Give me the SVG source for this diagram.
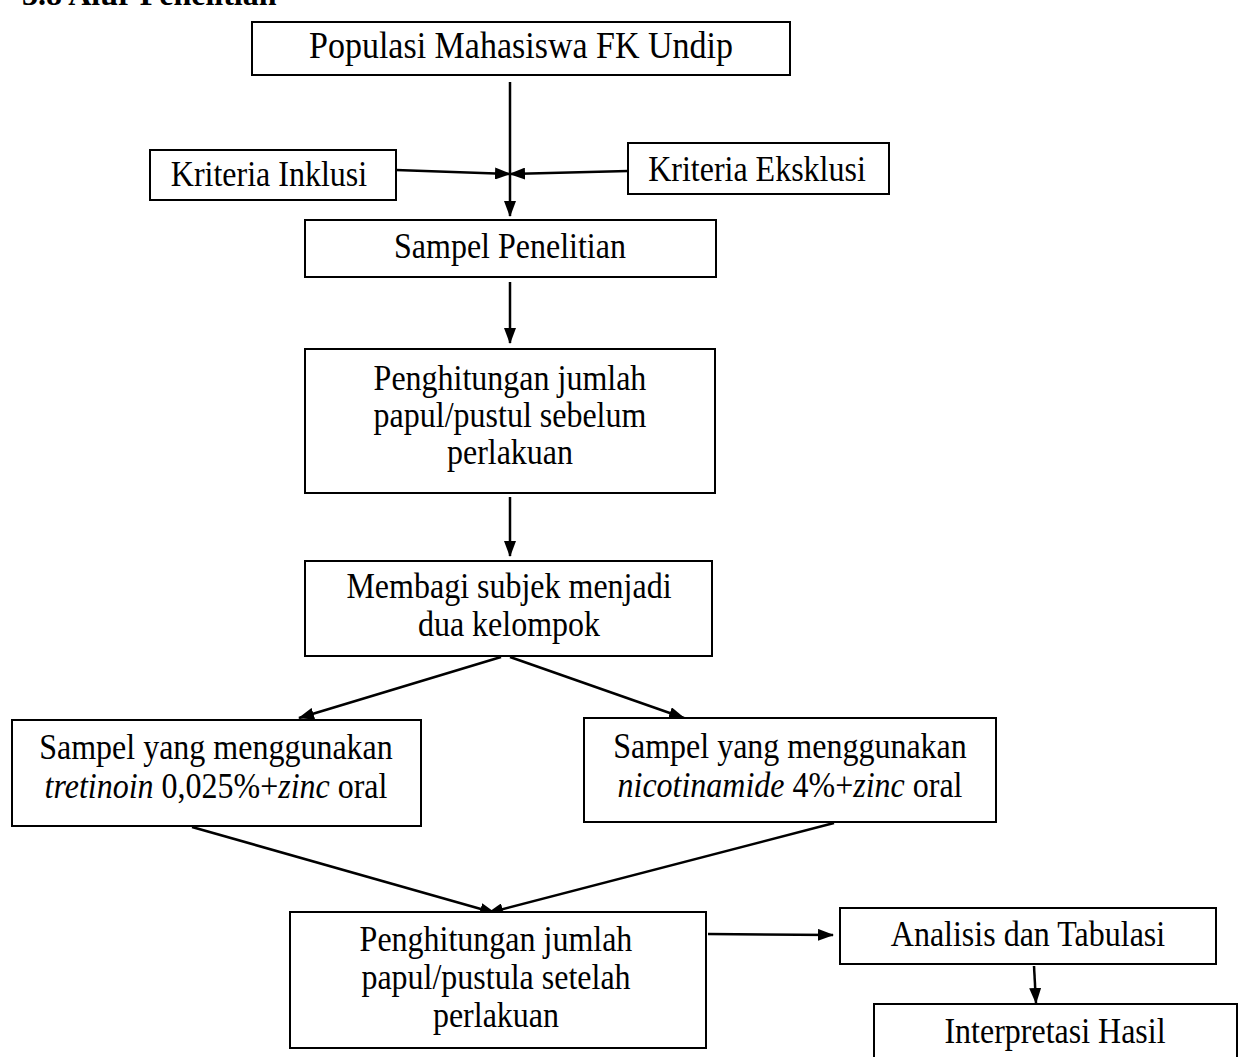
<svg xmlns="http://www.w3.org/2000/svg" width="1250" height="1057" viewBox="0 0 1250 1057">
<style>
.box{fill:#fff;stroke:#000;stroke-width:2}
.t{font-family:"Liberation Serif","Times New Roman",serif;font-size:32px;fill:#000;text-anchor:middle;transform-box:fill-box;transform-origin:center;transform:scaleY(1.1)}
.i{font-style:italic}
.c{stroke:#000;stroke-width:2.5;fill:none;marker-end:url(#ah)}
.title{font-family:"Liberation Serif","Times New Roman",serif;font-size:32px;font-weight:bold;fill:#000}
</style>
<defs>
<marker id="ah" markerWidth="16" markerHeight="12" refX="15" refY="6" orient="auto" markerUnits="userSpaceOnUse">
<path d="M0,0 L16,6 L0,12 Z" fill="#000"/>
</marker>
</defs>
<rect width="1250" height="1057" fill="#fff"/>
<text class="title" x="22" y="5">3.8 Alur Penelitian</text>
<g id="connectors">
<line class="c" x1="510" y1="82" x2="510" y2="216"/>
<line class="c" x1="396" y1="170" x2="510" y2="174"/>
<line class="c" x1="628" y1="171" x2="510" y2="174"/>
<line class="c" x1="510" y1="282" x2="510" y2="343"/>
<line class="c" x1="510" y1="497" x2="510" y2="556"/>
<line class="c" x1="501" y1="657" x2="299" y2="718"/>
<line class="c" x1="510" y1="657" x2="684" y2="718"/>
<line class="c" x1="192" y1="827" x2="495" y2="913"/>
<line class="c" x1="834" y1="823" x2="488" y2="913"/>
<line class="c" x1="708" y1="934" x2="833" y2="935"/>
<line class="c" x1="1034" y1="966" x2="1036" y2="1003"/>
</g>
<g id="n1"><rect class="box" x="252" y="22" width="538" height="53"/><text class="t" x="521" y="57" style="font-size:34px">Populasi Mahasiswa FK Undip</text></g>
<g id="n2"><rect class="box" x="150" y="150" width="246" height="50"/><text class="t" x="269" y="185">Kriteria Inklusi</text></g>
<g id="n3"><rect class="box" x="628" y="143" width="261" height="51"/><text class="t" x="757" y="180">Kriteria Eksklusi</text></g>
<g id="n4"><rect class="box" x="305" y="220" width="411" height="57"/><text class="t" x="510" y="257">Sampel Penelitian</text></g>
<g id="n5"><rect class="box" x="305" y="349" width="410" height="144"/><text class="t" x="510" y="389">Penghitungan jumlah</text><text class="t" x="510" y="426">papul/pustul sebelum</text><text class="t" x="510" y="463">perlakuan</text></g>
<g id="n6"><rect class="box" x="305" y="561" width="407" height="95"/><text class="t" x="509" y="597">Membagi subjek menjadi</text><text class="t" x="509" y="635">dua kelompok</text></g>
<g id="n7"><rect class="box" x="12" y="720" width="409" height="106"/><text class="t" x="216" y="758">Sampel yang menggunakan</text><text class="t" x="216" y="797"><tspan class="i">tretinoin</tspan> 0,025%+<tspan class="i">zinc</tspan> oral</text></g>
<g id="n8"><rect class="box" x="584" y="718" width="412" height="104"/><text class="t" x="790" y="757">Sampel yang menggunakan</text><text class="t" x="790" y="796"><tspan class="i">nicotinamide</tspan> 4%+<tspan class="i">zinc</tspan> oral</text></g>
<g id="n9"><rect class="box" x="290" y="912" width="416" height="136"/><text class="t" x="496" y="950">Penghitungan jumlah</text><text class="t" x="496" y="988">papul/pustula setelah</text><text class="t" x="496" y="1026">perlakuan</text></g>
<g id="n10"><rect class="box" x="840" y="908" width="376" height="56"/><text class="t" x="1028" y="945">Analisis dan Tabulasi</text></g>
<g id="n11"><rect class="box" x="874" y="1004" width="363" height="60"/><text class="t" x="1055" y="1042">Interpretasi Hasil</text></g>
</svg>
